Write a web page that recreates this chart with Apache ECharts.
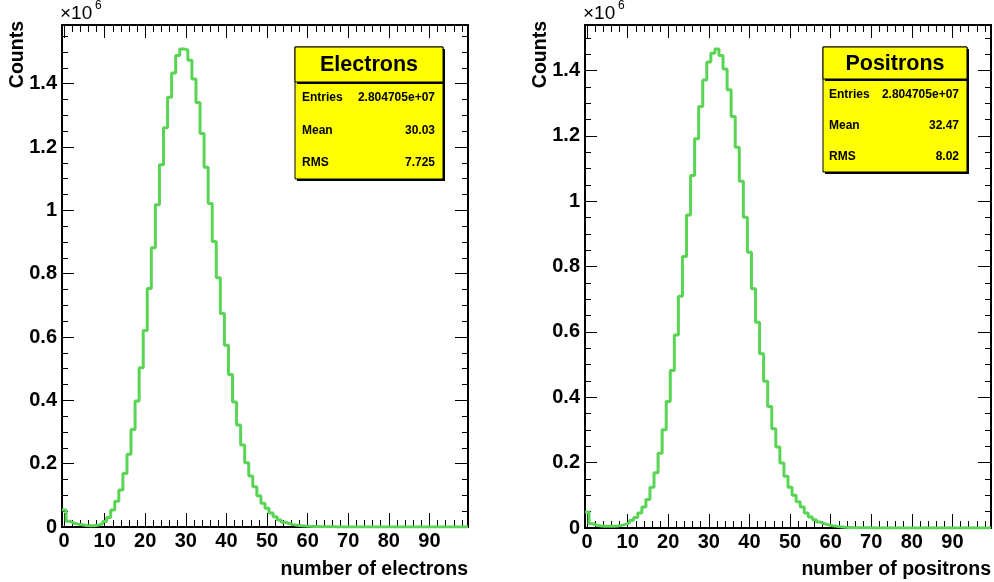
<!DOCTYPE html>
<html><head><meta charset="utf-8">
<script src="https://cdn.jsdelivr.net/npm/echarts@6/dist/echarts.min.js"></script>
<style>html,body{margin:0;padding:0;background:#fff}#c{width:994px;height:582px}</style>
</head><body><div id="c"></div><script>
// Histogram contents, bins 0..99 (bin k covers k-0.5 .. k+0.5), in units of 10^6 counts
const electrons = [
 0.054,0.018,0.012,0.009,0.007,0.005,0.004,0.004,0.006,0.010,
 0.017,0.030,0.054,0.081,0.117,0.169,0.230,0.308,0.398,0.503,
 0.621,0.753,0.882,1.018,1.144,1.261,1.357,1.434,1.489,1.510,
 1.507,1.474,1.415,1.341,1.243,1.136,1.022,0.902,0.787,0.674,
 0.574,0.482,0.395,0.322,0.259,0.203,0.161,0.127,0.099,0.075,
 0.059,0.044,0.032,0.022,0.015,0.011,0.0075,0.0052,0.0038,0.0028,
 0.0021,0.0016,0.0012,0.0009,0.0007,0.0005,0.0004,0.0003,0.00025,0.0002,
 0.00015,0.0001,0.0001,0.00008,0.00006,0.00005,0.00004,0.00003,0.00002,0.00001,
 0,0,0,0,0,0,0,0,0,0,
 0,0,0,0,0,0,0,0,0,0
];
const positrons = [
 0.049,0.013,0.008,0.006,0.005,0.005,0.005,0.006,0.008,0.011,
 0.016,0.024,0.032,0.046,0.064,0.087,0.125,0.169,0.229,0.301,
 0.387,0.482,0.591,0.709,0.831,0.958,1.079,1.191,1.290,1.371,
 1.426,1.453,1.466,1.446,1.405,1.341,1.259,1.165,1.061,0.951,
 0.844,0.732,0.630,0.533,0.449,0.372,0.304,0.248,0.199,0.158,
 0.125,0.100,0.080,0.064,0.046,0.034,0.025,0.018,0.013,0.0095,
 0.0068,0.0050,0.0036,0.0026,0.0019,0.0014,0.0010,0.0007,0.0005,0.0004,
 0.0003,0.0002,0.00015,0.0001,0.00008,0.00006,0.00004,0.00003,0.00002,0.00001,
 0,0,0,0,0,0,0,0,0,0,
 0,0,0,0,0,0,0,0,0,0
];
const xTickLabels = [0,10,20,30,40,50,60,70,80,90];
const yTickLabels = [0,0.2,0.4,0.6,0.8,1,1.2,1.4];
const xTitles = ['number of electrons','number of positrons'];
const yTitle = 'Counts';
const statTitles = ['Electrons','Positrons'];
const statLabels = ['Entries','Mean','RMS'];
const statValues = [['2.804705e+07','30.03','7.725'],['2.804705e+07','32.47','8.02']];

const xMinorTicks = []; for (let i = 0; i < 100; i += 2) xMinorTicks.push(i);
const yMinorTicks = []; for (let i = 0; i <= 31; i++) yMinorTicks.push(+(i*0.05).toFixed(2));

const FONT = '"Liberation Sans", Arial, Helvetica, sans-serif';
const hists = [electrons, positrons];
const yMaxes = hists.map(h => 1.05 * Math.max.apply(null, h));

const grids = [
  {left: 62, top: 25, width: 406, height: 502},
  {left: 585, top: 25, width: 406, height: 503}
];

function xAx(g, pos, ticks, len, withLabels) {
  return {
    type: 'value', gridIndex: g, position: pos, min: -0.5, max: 99.5,
    axisLine: {show: true, onZero: false, lineStyle: {color: '#000', width: 2}},
    axisTick: {show: true, inside: true, length: len, customValues: ticks, lineStyle: {color: '#000', width: 1}},
    axisLabel: withLabels ? {show: true, customValues: ticks, margin: 4, color: '#000', fontFamily: FONT, fontWeight: 'bold', fontSize: 20} : {show: false},
    splitLine: {show: false}, minorTick: {show: false}
  };
}
function yAx(g, pos, ticks, len, withLabels) {
  return {
    type: 'value', gridIndex: g, position: pos, min: 0, max: yMaxes[g],
    axisLine: {show: true, onZero: false, lineStyle: {color: '#000', width: 2}},
    axisTick: {show: true, inside: true, length: len, customValues: ticks, lineStyle: {color: '#000', width: 1}},
    axisLabel: withLabels ? {show: true, customValues: ticks, margin: 5, color: '#000', fontFamily: FONT, fontWeight: 'bold', fontSize: 20} : {show: false},
    splitLine: {show: false}, minorTick: {show: false}
  };
}

const xAxes = [], yAxes = [], series = [], graphics = [];
[0, 1].forEach(g => {
  const xi = xAxes.length, yi = yAxes.length;
  xAxes.push(xAx(g, 'bottom', xTickLabels, 14, true), xAx(g, 'bottom', xMinorTicks, 7, false),
             xAx(g, 'top', xTickLabels, 13, false), xAx(g, 'top', xMinorTicks, 7, false));
  yAxes.push(yAx(g, 'left', yTickLabels, 12, true), yAx(g, 'left', yMinorTicks, 6, false),
             yAx(g, 'right', yTickLabels, 13, false), yAx(g, 'right', yMinorTicks, 6, false));
  const h = hists[g];
  const pts = h.map((v, i) => [i - 0.5, v]);
  pts.push([h.length - 0.5, h[h.length - 1]]);
  series.push({
    type: 'line', step: 'end', xAxisIndex: xi, yAxisIndex: yi, data: pts,
    symbol: 'none', showSymbol: false, clip: true,
    lineStyle: {color: '#59d454', width: 3}, animation: false
  });

  const gl = grids[g].left, gr = grids[g].left + grids[g].width;
  // x10^6 multiplier
  graphics.push({type: 'text', x: gl - 2, y: 4, style: {text: '\u00d710', fontFamily: FONT, fontSize: 19, fill: '#000', align: 'left', verticalAlign: 'top'}});
  graphics.push({type: 'text', x: gl + 33, y: 0, style: {text: '6', fontFamily: FONT, fontSize: 12, fill: '#000', align: 'left', verticalAlign: 'top'}});
  // axis titles
  graphics.push({type: 'text', x: gr, y: 560, style: {text: xTitles[g], fontFamily: FONT, fontWeight: 'bold', fontSize: 19.5, fill: '#000', align: 'right', verticalAlign: 'top'}});
  graphics.push({type: 'text', x: gl - 44, y: 21, rotation: Math.PI / 2, style: {text: yTitle, fontFamily: FONT, fontWeight: 'bold', fontSize: 19.5, fill: '#000', align: 'right', verticalAlign: 'middle'}});
});

// stats boxes
const boxes = [
  {x: 295, y: 47, w: 148, h: 132, th: 35, lx: 7, rx: 8},
  {x: 823, y: 47, w: 144, h: 125, th: 32, lx: 6, rx: 8}
];
boxes.forEach((b, g) => {
  graphics.push({type: 'rect', shape: {x: b.x + 2, y: b.y + 2, width: b.w, height: b.h}, style: {fill: '#000'}, z: 100});
  graphics.push({type: 'rect', shape: {x: b.x, y: b.y, width: b.w, height: b.h}, style: {fill: '#ffff00', stroke: '#000', lineWidth: 1}, z: 101});
  graphics.push({type: 'rect', shape: {x: b.x + 2, y: b.y + 2, width: b.w, height: b.th}, style: {fill: '#000'}, z: 102});
  graphics.push({type: 'rect', shape: {x: b.x, y: b.y, width: b.w, height: b.th}, style: {fill: '#ffff00', stroke: '#000', lineWidth: 1}, z: 103});
  graphics.push({type: 'text', x: b.x + b.w / 2, y: b.y + b.th / 2 + 1, z: 104, style: {text: statTitles[g], fontFamily: FONT, fontWeight: 'bold', fontSize: 21.5, fill: '#000', align: 'center', verticalAlign: 'middle'}});
  const rowH = (b.h - b.th) / 3;
  statLabels.forEach((lab, r) => {
    const cy = b.y + b.th + rowH * (r + 0.5);
    graphics.push({type: 'text', x: b.x + b.lx, y: cy, z: 104, style: {text: lab, fontFamily: FONT, fontWeight: 'bold', fontSize: 12, fill: '#000', align: 'left', verticalAlign: 'middle'}});
    graphics.push({type: 'text', x: b.x + b.w - b.rx, y: cy, z: 104, style: {text: statValues[g][r], fontFamily: FONT, fontWeight: 'bold', fontSize: 12, fill: '#000', align: 'right', verticalAlign: 'middle'}});
  });
});

const chart = echarts.init(document.getElementById('c'), null, {renderer: 'canvas'});
chart.setOption({
  backgroundColor: '#fff',
  animation: false,
  grid: grids,
  xAxis: xAxes,
  yAxis: yAxes,
  series: series,
  graphic: graphics
});
</script></body></html>
